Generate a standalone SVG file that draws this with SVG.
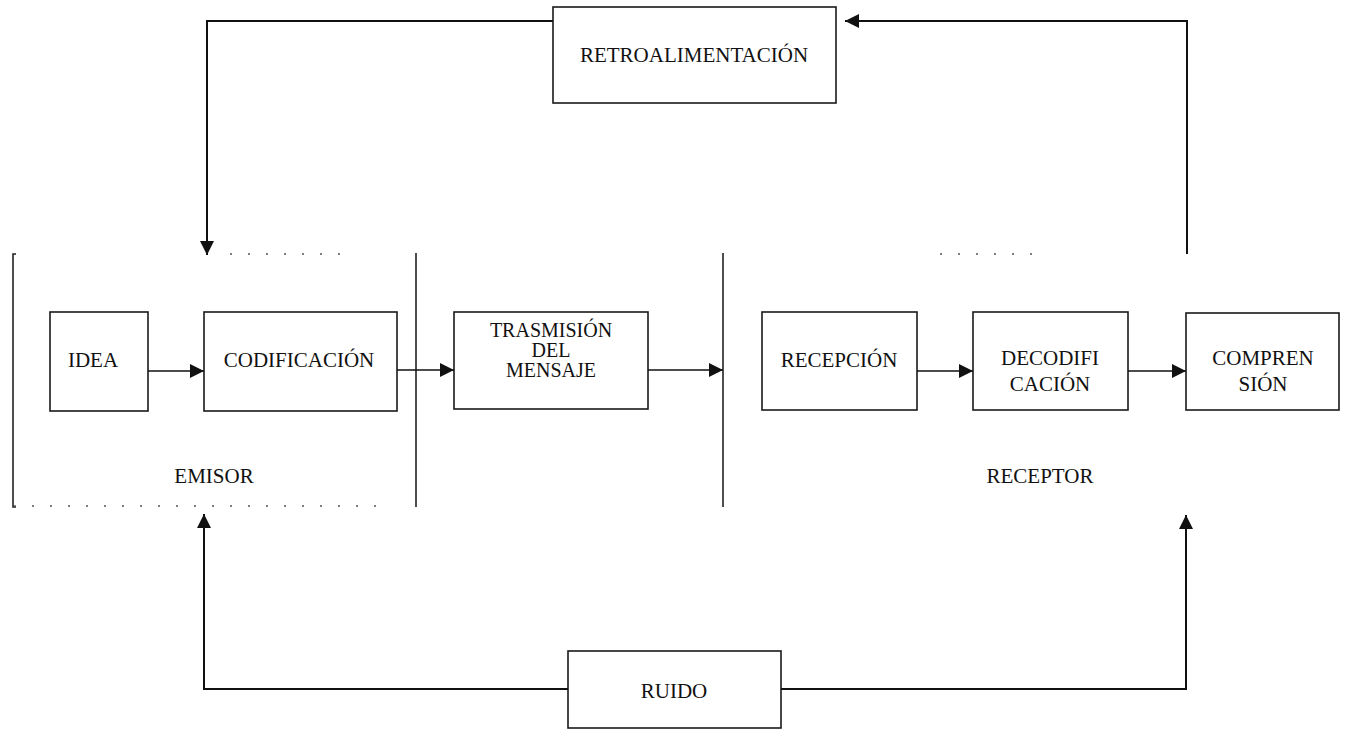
<svg xmlns="http://www.w3.org/2000/svg" width="1356" height="730" viewBox="0 0 1356 730">
  <style>
    .box { fill: #ffffff; stroke: #1a1a1a; stroke-width: 1.6; }
    .lbl { font-family: "Liberation Serif", "Times New Roman", serif; font-size: 21px; fill: #111111; text-anchor: middle; }
    .tight { font-size: 20px; }
    .wire { fill: none; stroke: #111111; stroke-width: 1.6; }
    .heavy { fill: none; stroke: #111111; stroke-width: 2; }
    .edge { fill: none; stroke: #222222; stroke-width: 1.6; }
    .faint { fill: none; stroke: #555555; stroke-width: 1.4; stroke-dasharray: 2 16; }
  </style>
  <defs>
    <marker id="head" markerUnits="userSpaceOnUse" markerWidth="15" markerHeight="15" refX="14" refY="7" orient="auto">
      <path d="M0,0 L14,7 L0,14 z" fill="#111111"/>
    </marker>
  </defs>

  <rect width="1356" height="730" fill="#ffffff"/>

  <!-- sender zone -->
  <g id="emisor">
    <path class="edge" d="M16,254 L13,254 L13,507 L16,507"/>
    <line class="edge" x1="416" y1="253" x2="416" y2="507"/>
    <line class="faint" x1="230" y1="254" x2="345" y2="254"/>
    <line class="faint" x1="14" y1="506" x2="385" y2="506"/>
    <text class="lbl" x="214" y="483">EMISOR</text>
  </g>

  <!-- receiver zone -->
  <g id="receptor">
    <line class="edge" x1="723" y1="253" x2="723" y2="507"/>
    <line class="faint" x1="940" y1="254" x2="1040" y2="254"/>
    <text class="lbl" x="1040" y="483">RECEPTOR</text>
  </g>

  <g id="idea">
    <rect class="box" x="50" y="312" width="98" height="99"/>
    <text class="lbl" x="93" y="367">IDEA</text>
  </g>

  <g id="codificacion">
    <rect class="box" x="204" y="312" width="193" height="99"/>
    <text class="lbl" x="299" y="367">CODIFICACIÓN</text>
  </g>

  <g id="trasmision">
    <rect class="box" x="454" y="312" width="194" height="97"/>
    <text class="lbl tight" x="551" y="337">TRASMISIÓN</text>
    <text class="lbl tight" x="551" y="357">DEL</text>
    <text class="lbl tight" x="551" y="377">MENSAJE</text>
  </g>

  <g id="recepcion">
    <rect class="box" x="762" y="312" width="155" height="98"/>
    <text class="lbl" x="839" y="367">RECEPCIÓN</text>
  </g>

  <g id="decodificacion">
    <rect class="box" x="973" y="312" width="155" height="98"/>
    <text class="lbl" x="1050" y="365">DECODIFI</text>
    <text class="lbl" x="1050" y="391">CACIÓN</text>
  </g>

  <g id="comprension">
    <rect class="box" x="1186" y="313" width="153" height="97"/>
    <text class="lbl" x="1263" y="365">COMPREN</text>
    <text class="lbl" x="1263" y="391">SIÓN</text>
  </g>

  <g id="retroalimentacion">
    <rect class="box" x="553" y="7" width="283" height="96"/>
    <text class="lbl" x="694" y="62">RETROALIMENTACIÓN</text>
  </g>

  <g id="ruido">
    <rect class="box" x="568" y="651" width="213" height="77"/>
    <text class="lbl" x="674" y="698">RUIDO</text>
  </g>

  <!-- connectors -->
  <g id="connectors">
    <line class="wire" x1="148" y1="371" x2="204" y2="371" marker-end="url(#head)"/>
    <line class="wire" x1="397" y1="370" x2="454" y2="370" marker-end="url(#head)"/>
    <line class="wire" x1="648" y1="370" x2="723" y2="370" marker-end="url(#head)"/>
    <line class="wire" x1="917" y1="371" x2="973" y2="371" marker-end="url(#head)"/>
    <line class="wire" x1="1128" y1="371" x2="1186" y2="371" marker-end="url(#head)"/>

    <!-- feedback loop -->
    <path class="heavy" d="M1187,254 L1187,21 L845,21" marker-end="url(#head)"/>
    <path class="heavy" d="M553,21 L207,21 L207,255" marker-end="url(#head)"/>

    <!-- noise paths -->
    <path class="heavy" d="M568,689 L204,689 L204,514" marker-end="url(#head)"/>
    <path class="heavy" d="M781,689 L1186,689 L1186,515" marker-end="url(#head)"/>
  </g>
</svg>
